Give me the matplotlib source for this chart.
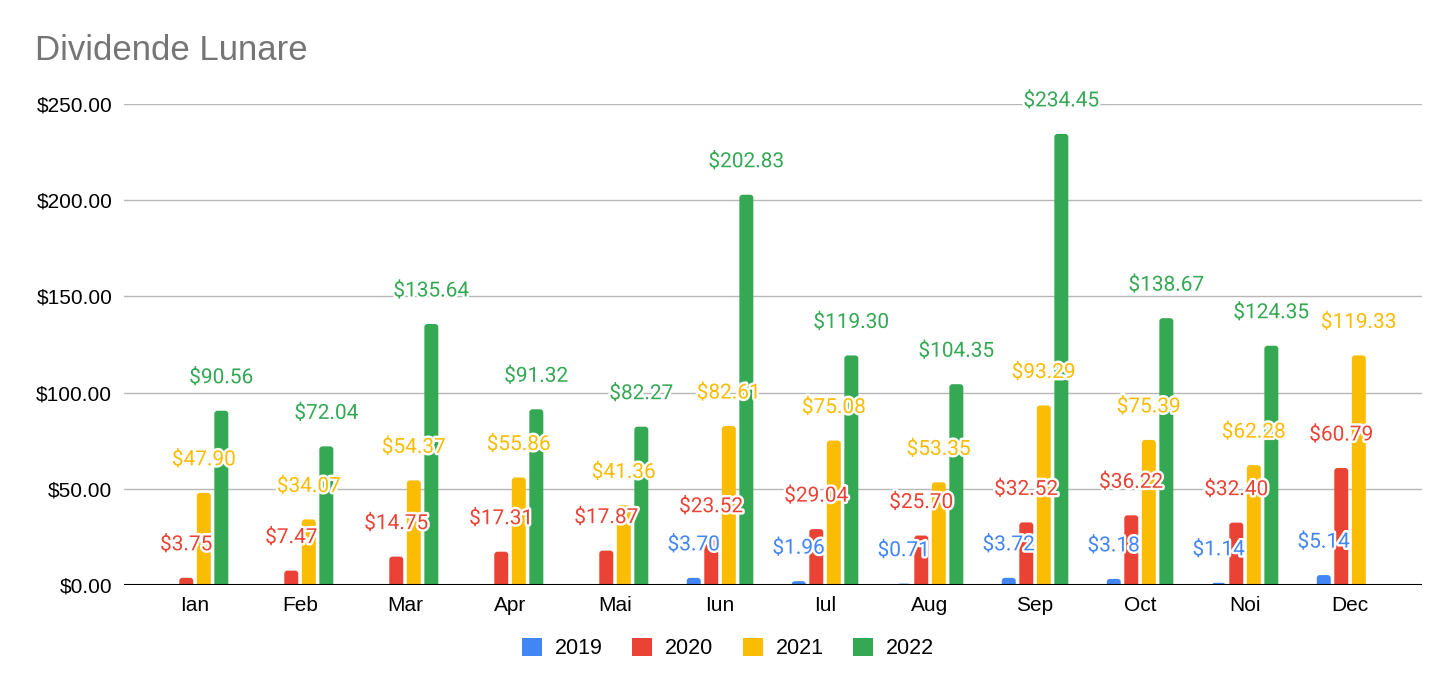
import numpy as np
import matplotlib.pyplot as plt
import matplotlib.patheffects as pe
from matplotlib.patches import Patch, FancyBboxPatch

# date
luni = ['Ian', 'Feb', 'Mar', 'Apr', 'Mai', 'Iun', 'Iul', 'Aug', 'Sep', 'Oct', 'Noi', 'Dec']
ani = ['2019', '2020', '2021', '2022']
d2019 = [np.nan, np.nan, np.nan, np.nan, np.nan, 3.70, 1.96, 0.71, 3.72, 3.18, 1.14, 5.14]
d2020 = [3.75, 7.47, 14.75, 17.31, 17.87, 23.52, 29.04, 25.70, 32.52, 36.22, 32.40, 60.79]
d2021 = [47.90, 34.07, 54.37, 55.86, 41.36, 82.61, 75.08, 53.35, 93.29, 75.39, 62.28, 119.33]
d2022 = [90.56, 72.04, 135.64, 91.32, 82.27, 202.83, 119.30, 104.35, 234.45, 138.67, 124.35, np.nan]
culori = ['#4285F4', '#EA4335', '#FBBC04', '#34A853']

fig = plt.figure(figsize=(14.56, 6.95), dpi=100)
ax = fig.add_axes([0.0852, 0.1583, 0.8915, 0.6921])

x = np.arange(len(luni))
w = 0.133
pas = 0.167
rx = 0.03    # raza colt, unitati x
ry = 1.6     # raza colt, unitati y
serii = [d2019, d2020, d2021, d2022]
for i, (vals, c) in enumerate(zip(serii, culori)):
    xi = x + (i - 1.5) * pas
    bare = ax.bar(xi, vals, width=w, color=c, zorder=2)
    # colturi rotunjite (bara coboara putin sub 0 si e taiata de axa)
    for b in bare:
        h = b.get_height()
        if np.isnan(h):
            continue
        b.set_visible(False)
        ax.add_patch(FancyBboxPatch((b.get_x(), -ry), b.get_width(), h + ry,
                                    boxstyle='round,pad=0,rounding_size=%f' % rx,
                                    mutation_aspect=ry / rx, facecolor=c,
                                    edgecolor='none', zorder=2))
    for xx, v in zip(xi, vals):
        if np.isnan(v):
            continue
        ax.annotate('$%.2f' % v, (xx, v), xytext=(0, 33), textcoords='offset pixels',
                    ha='center', va='center', fontsize=15, color=c, family='Roboto',
                    zorder=5, annotation_clip=False,
                    path_effects=[pe.withStroke(linewidth=3.5, foreground='white')])

ax.set_xlim(-0.676, 11.686)
ax.set_ylim(0, 250)
ax.set_yticks(np.arange(0, 251, 50))
ax.set_yticklabels(['$%.2f' % t for t in np.arange(0, 251, 50)], family='Liberation Sans', fontsize=15)
ax.set_xticks(x)
ax.set_xticklabels(luni, family='Liberation Sans', fontsize=15)
ax.tick_params(length=0, pad=8.5)
ax.tick_params(axis='x', pad=8)
ax.grid(axis='y', color='#b7b7b7', linewidth=1, zorder=0)
for s in ax.spines.values():
    s.set_visible(False)
ax.axhline(0, color='black', linewidth=1.5, zorder=3)

fig.text(0.024, 0.928, 'Dividende Lunare', fontsize=25, color='#757575',
         family='Liberation Sans', va='center')

handles = [Patch(facecolor=c, label=a) for a, c in zip(ani, culori)]
fig.legend(handles=handles, loc='center', bbox_to_anchor=(0.5, 0.067), ncol=4,
           frameon=False, prop={'family': 'Liberation Sans', 'size': 15.5},
           handlelength=0.95, handleheight=0.95, columnspacing=1.35, handletextpad=0.6)

fig.savefig('out.png', dpi=100, facecolor='white')
